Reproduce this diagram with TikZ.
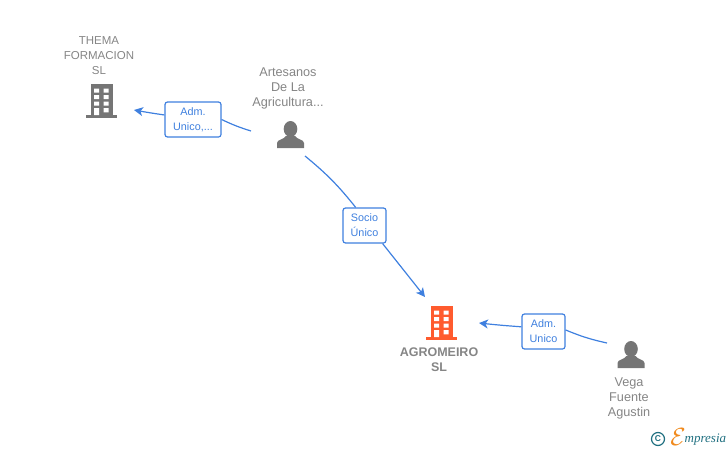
\documentclass[tikz,border=0pt]{standalone}
\usepackage{fontspec}
\setmainfont{Liberation Sans}
\newfontfamily\logofont{Liberation Serif}
\usetikzlibrary{arrows.meta,positioning}
\definecolor{linkblue}{HTML}{3F80DF}
\definecolor{icongrey}{HTML}{757575}
\definecolor{textgrey}{HTML}{858585}
\definecolor{mainorange}{HTML}{FF5B2E}
\definecolor{logoteal}{HTML}{1F6F80}
\definecolor{logoorange}{HTML}{F08A1D}

\tikzset{
  building/.pic={
    \fill (-11,-34) rectangle (11,-3);
    \fill (-15.5,-3) rectangle (15.5,0);
    \foreach \yy in {-29.5,-23,-16.5}
      \fill[white] (-7.5,\yy) rectangle +(5,4.2) (2,\yy) rectangle +(5,4.2);
    \fill[white] (-7.5,-10) rectangle (-2.5,-3) (2,-10) rectangle (7,-5.6);
  },
  person/.pic={
    \fill (0,-19) ellipse (6.8 and 8);
    \fill (-13.5,0) -- (-13.5,-5) .. controls (-13.5,-8.5) and (-6.5,-8.5) .. (-4.5,-12)
      -- (4.5,-12) .. controls (6.5,-8.5) and (13.5,-8.5) .. (13.5,-5) -- (13.5,0) -- cycle;
  }
}

\begin{document}
\begin{tikzpicture}[x=1pt,y=-1pt,>={Stealth[length=9pt,width=9pt,inset=2.5pt]},
                    link/.style={color=linkblue,line width=1.2pt},
                    role box/.style={draw=linkblue,line width=1.2pt,fill=white,rounded corners=2.5pt,
                      text=linkblue,align=center,inner sep=0pt,
                      font=\fontsize{10.8}{15}\selectfont},
                    entity/.style={text=textgrey,align=center,inner sep=0pt,
                      font=\fontsize{12.7}{15}\selectfont}]

  \useasboundingbox (0,0) rectangle (728,450);

  \pic[icongrey] at (101.5,118) {building};
  \pic[mainorange] at (441.5,340) {building};
  \pic[icongrey] at (290.5,148) {person};
  \pic[icongrey] at (631,368) {person};

  \node[entity,font=\fontsize{11.5}{15}\selectfont] (thema) at (99,56) {THEMA\\FORMACION\\SL};
  \node[entity] (artesanos) at (288,88) {Artesanos\\De La\\Agricultura...};
  \node[entity,font=\fontsize{12.5}{15}\selectfont\bfseries] (agromeiro) at (439,359.5) {AGROMEIRO\\SL};
  \node[entity] (vega) at (629,398) {Vega\\Fuente\\Agustin};

  \node[role box,minimum width=56pt,minimum height=35pt] (adm1) at (193,119.5) {Adm.\\Unico,...};
  \node[role box,minimum width=43pt,minimum height=35pt] (socio) at (364.5,225.5) {Socio\\Único};
  \node[role box,minimum width=43pt,minimum height=35pt] (adm2) at (543.5,331.5) {Adm.\\Unico};

  \coordinate (arteleft) at (251,131);
  \coordinate (artedown) at (305,156);
  \coordinate (themain) at (134,110);
  \coordinate (agrotop) at (425,297);
  \coordinate (agroright) at (479,323);
  \coordinate (vegaout) at (607,343);

  \path[link]
    (arteleft) edge[bend left=4] (adm1.east)
    (artedown) edge[bend left=6] (socio.116)
    (vegaout) edge[bend left=5] (adm2.4)
    (adm1.171) edge[->,bend left=1] (themain)
    (socio.-45) edge[->] (agrotop)
    (adm2.168) edge[->,bend left=1] (agroright);

  % logo
  \node[circle,draw=logoteal,line width=1.2pt,text=logoteal,inner sep=0pt,minimum size=13pt,
        font=\bfseries\fontsize{8.5}{9}\selectfont] (copyr) at (658,439) {C};
  \node[text=logoorange,inner sep=0pt,font=\fontsize{24}{24}\selectfont] (logoe) at (678,437) {$\mathcal{E}$};
  \node[text=logoteal,inner sep=0pt,anchor=base west,font=\logofont\itshape\fontsize{13}{13}\selectfont] (logotext) at (684.5,442) {mpresia};
\end{tikzpicture}
\end{document}
